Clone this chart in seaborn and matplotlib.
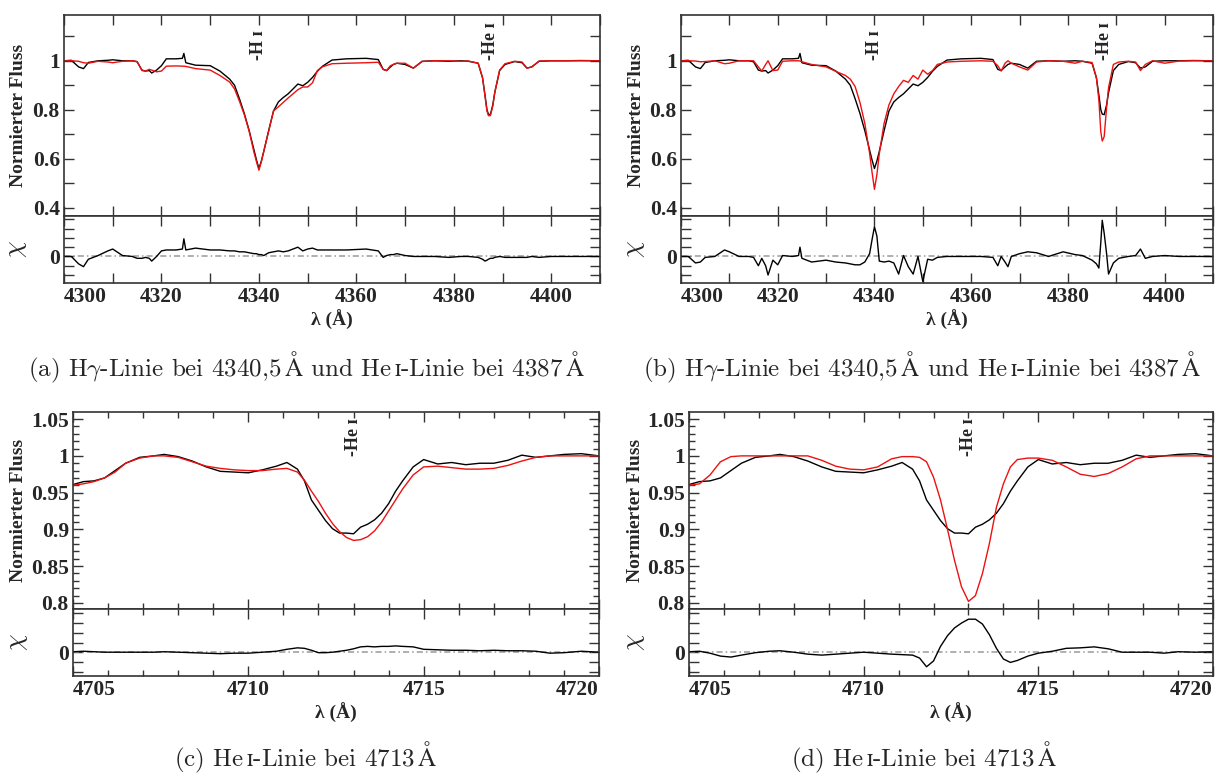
import numpy as np
import pandas as pd
import seaborn as sns
import matplotlib.pyplot as plt

# Hgamma + He I 4387 window, panels (a) and (b)
wave_hg = [4300, 4301.5, 4303, 4304, 4305, 4307, 4309, 4310, 4312, 4314,
           4315, 4316, 4316.7, 4317.5, 4318, 4319, 4320, 4321, 4323, 4324.3,
           4324.6, 4325, 4327, 4330, 4332, 4334, 4335, 4336, 4337, 4338,
           4339, 4339.5, 4340, 4340.5, 4341, 4342, 4343, 4344, 4345, 4346,
           4347, 4348, 4349, 4350, 4351, 4352, 4353, 4355, 4358, 4362,
           4364.5, 4365.5, 4366.2, 4367, 4367.6, 4368.3, 4370, 4371.7, 4373.5, 4376,
           4379, 4381.5, 4383, 4385, 4385.9, 4386.4, 4386.8, 4387.1, 4387.5, 4388,
           4388.4, 4389.4, 4390.5, 4392.5, 4394, 4395, 4396, 4397.5, 4400, 4403,
           4406, 4410]
flux_obs_hg = [1.000, 1.002, 0.975, 0.968, 0.993, 1.000, 1.002, 1.004, 1.000, 1.000,
               0.996, 0.962, 0.958, 0.960, 0.950, 0.962, 0.980, 1.008, 1.008, 1.010,
               1.030, 0.992, 0.982, 0.980, 0.958, 0.925, 0.900, 0.845, 0.785, 0.715,
               0.635, 0.595, 0.560, 0.590, 0.630, 0.715, 0.795, 0.832, 0.850, 0.865,
               0.885, 0.905, 0.898, 0.912, 0.932, 0.957, 0.977, 1.003, 1.008, 1.010,
               1.005, 0.965, 0.960, 0.975, 0.985, 0.990, 0.985, 0.970, 0.998, 1.000,
               0.998, 1.000, 0.998, 0.990, 0.930, 0.860, 0.800, 0.782, 0.780, 0.820,
               0.870, 0.960, 0.985, 0.997, 0.992, 0.970, 0.975, 0.998, 1.000, 1.000,
               1.001, 1.000]
flux_fit_a = [1.000, 1.000, 0.998, 0.992, 0.990, 0.998, 0.995, 0.992, 0.998, 1.000,
              0.997, 0.960, 0.958, 0.965, 0.962, 0.955, 0.958, 0.978, 0.979, 0.978,
              0.978, 0.977, 0.968, 0.962, 0.940, 0.913, 0.885, 0.835, 0.780, 0.712,
              0.625, 0.588, 0.553, 0.588, 0.630, 0.712, 0.795, 0.812, 0.830, 0.848,
              0.865, 0.882, 0.893, 0.893, 0.910, 0.960, 0.975, 0.988, 0.990, 0.992,
              0.994, 0.965, 0.960, 0.980, 0.985, 0.990, 0.990, 0.970, 0.997, 1.000,
              1.000, 0.998, 0.999, 0.990, 0.930, 0.855, 0.795, 0.776, 0.776, 0.815,
              0.870, 0.962, 0.988, 0.998, 0.995, 0.970, 0.975, 0.999, 1.000, 1.000,
              1.000, 1.000]
flux_fit_b = [1.000, 1.000, 0.999, 0.996, 0.997, 1.000, 0.988, 0.990, 1.000, 1.000,
              1.000, 0.975, 0.958, 0.985, 1.000, 0.960, 0.962, 0.998, 1.000, 1.000,
              0.999, 0.996, 0.985, 0.975, 0.957, 0.940, 0.925, 0.895, 0.830, 0.745,
              0.622, 0.545, 0.475, 0.535, 0.620, 0.745, 0.820, 0.865, 0.895, 0.920,
              0.912, 0.940, 0.925, 0.962, 0.945, 0.960, 0.985, 0.995, 0.998, 1.000,
              0.998, 0.980, 0.958, 0.990, 1.000, 0.990, 0.975, 0.962, 0.995, 1.000,
              0.998, 0.990, 0.998, 0.993, 0.930, 0.840, 0.710, 0.672, 0.690, 0.810,
              0.890, 0.985, 0.995, 0.998, 0.995, 0.960, 0.985, 1.000, 0.990, 0.999,
              1.000, 1.000]
chi_a = [0.0, 0.0, -0.8, -1.1, -0.3, 0.1, 0.6, 0.8, 0.1, 0.0,
         -0.2, -0.2, -0.1, -0.2, -0.5, 0.0, 0.6, 0.7, 0.7, 0.8,
         1.9, 0.7, 0.9, 0.7, 0.7, 0.6, 0.6, 0.5, 0.5, 0.4,
         0.3, 0.3, 0.2, 0.2, 0.1, 0.4, 0.5, 0.6, 0.5, 0.6,
         0.8, 1.0, 0.6, 0.8, 0.9, 0.7, 0.7, 0.7, 0.7, 0.8,
         0.6, -0.1, 0.1, 0.2, 0.2, 0.3, 0.1, 0.0, 0.0, 0.0,
         -0.1, 0.0, 0.0, -0.1, -0.3, -0.5, -0.4, -0.3, -0.2, -0.2,
         -0.1, 0.0, -0.1, -0.1, -0.1, -0.1, 0.0, -0.1, 0.0, 0.0,
         0.0, 0.0]
chi_b = [0.0, 0.0, -0.7, -0.6, -0.1, 0.0, 0.7, 0.5, 0.0, 0.0,
         -0.1, -1.0, -0.2, -1.0, -2.0, -0.4, -0.9, 0.1, 0.0, 0.1,
         1.0, -0.2, -0.6, -0.4, -0.6, -0.7, -0.8, -0.9, -0.9, -0.6,
         0.3, 1.8, 3.2, 2.2, -0.5, -0.6, -0.5, -0.7, -1.9, 0.1,
         -1.1, -1.9, 0.0, -2.7, -0.3, -0.4, -0.1, 0.0, 0.0, 0.0,
         -0.1, -1.0, 0.0, -0.6, -1.1, 0.0, 0.3, 0.5, 0.4, 0.0,
         0.5, 0.2, 0.1, -0.4, -0.8, -1.25, 1.5, 3.9, 2.5, 0.3,
         -1.9, -0.7, -0.2, 0.0, 0.1, 0.8, -0.2, 0.0, 0.1, 0.0,
         0.0, 0.0]

# He I 4713 window, panels (c) and (d)
wave_he = [4705.0, 4705.3, 4705.6, 4705.9, 4706.2, 4706.5, 4706.9, 4707.3, 4707.6, 4708.0,
           4708.4, 4708.8, 4709.2, 4709.6, 4710.0, 4710.4, 4710.8, 4711.1, 4711.4, 4711.6,
           4711.8, 4712.0, 4712.2, 4712.4, 4712.6, 4712.8, 4713.0, 4713.2, 4713.4, 4713.6,
           4713.8, 4714.0, 4714.2, 4714.4, 4714.7, 4715.0, 4715.4, 4715.8, 4716.2, 4716.6,
           4717.0, 4717.4, 4717.8, 4718.2, 4718.6, 4719.0, 4719.5, 4720.0]
flux_obs_he = [0.961, 0.965, 0.966, 0.970, 0.980, 0.990, 0.998, 1.000, 1.002, 0.999,
               0.993, 0.985, 0.979, 0.978, 0.977, 0.981, 0.986, 0.991, 0.982, 0.966,
               0.940, 0.926, 0.912, 0.901, 0.895, 0.895, 0.894, 0.903, 0.907, 0.913,
               0.922, 0.935, 0.952, 0.966, 0.985, 0.995, 0.989, 0.991, 0.988, 0.990,
               0.990, 0.994, 1.001, 0.998, 1.000, 1.002, 1.003, 1.000]
flux_fit_c = [0.960, 0.962, 0.965, 0.970, 0.978, 0.990, 0.997, 1.000, 1.000, 0.998,
              0.992, 0.986, 0.983, 0.981, 0.980, 0.980, 0.982, 0.983, 0.978, 0.967,
              0.952, 0.938, 0.922, 0.908, 0.897, 0.889, 0.885, 0.886, 0.890, 0.898,
              0.910, 0.925, 0.940, 0.955, 0.974, 0.985, 0.986, 0.984, 0.982, 0.982,
              0.983, 0.987, 0.993, 0.998, 1.000, 1.000, 1.000, 1.000]
flux_fit_d = [0.960, 0.962, 0.974, 0.992, 0.999, 1.000, 1.000, 1.000, 1.000, 1.000,
              1.000, 0.994, 0.986, 0.982, 0.981, 0.985, 0.996, 0.999, 0.999, 0.998,
              0.992, 0.971, 0.940, 0.900, 0.858, 0.822, 0.802, 0.810, 0.840, 0.881,
              0.930, 0.962, 0.985, 0.995, 0.997, 0.997, 0.994, 0.985, 0.975, 0.972,
              0.976, 0.985, 0.996, 1.000, 1.000, 1.000, 1.000, 1.000]
chi_c = [0.05, 0.1, 0.05, 0.0, 0.0, 0.0, 0.0, 0.0, 0.05, 0.0,
         -0.05, -0.1, -0.15, -0.1, -0.1, 0.0, 0.1, 0.3, 0.45, 0.4,
         0.2, -0.05, -0.05, 0.0, 0.1, 0.2, 0.35, 0.55, 0.6, 0.55,
         0.6, 0.6, 0.65, 0.6, 0.55, 0.3, 0.25, 0.2, 0.2, 0.15,
         0.2, 0.15, 0.15, 0.1, -0.1, -0.05, 0.1, 0.0]
chi_d = [0.05, 0.1, -0.1, -0.4, -0.5, -0.3, -0.05, 0.1, 0.15, 0.0,
         -0.2, -0.3, -0.2, -0.1, 0.0, -0.1, -0.2, -0.25, -0.3, -0.6,
         -1.5, -0.9, 0.6, 1.7, 2.5, 3.0, 3.4, 3.4, 2.9, 1.8,
         0.4, -0.7, -1.05, -0.85, -0.4, -0.1, 0.1, 0.4, 0.45, 0.55,
         0.35, 0.0, 0.0, 0.0, -0.1, 0.05, 0.0, 0.05]

hg_xticks = list(range(4300, 4411, 10))
hg_xlabels = [str(t) if t % 20 == 0 else '' for t in hg_xticks]
hg_yticks = [0.4, 0.5, 0.6, 0.7, 0.8, 0.9, 1.0, 1.1]
hg_ylabels = ['0.4', '', '0.6', '', '0.8', '', '1', '']
he_xticks = [4705, 4710, 4715, 4720]
he_xlabels = ['4705', '4710', '4715', '4720']
he_yticks = [0.8, 0.85, 0.9, 0.95, 1.0, 1.05]
he_ylabels = ['0.8', '0.85', '0.9', '0.95', '1', '1.05']
chi_ticks = [-2, -1, 0, 1, 2, 3, 4]
chi_labels = ['', '', '0', '', '', '', '']

lines_hg = [(4340.0, '-H ɪ'), (4387.5, '-He ɪ')]
lines_he = [(4713.0, '-He ɪ')]

captions = [r'(a) H$\gamma$-Linie bei 4340,5$\,\mathrm{\AA}$ und He$\,\mathrm{ɪ}$-Linie bei 4387$\,\mathrm{\AA}$',
            r'(b) H$\gamma$-Linie bei 4340,5$\,\mathrm{\AA}$ und He$\,\mathrm{ɪ}$-Linie bei 4387$\,\mathrm{\AA}$',
            r'(c) He$\,\mathrm{ɪ}$-Linie bei 4713$\,\mathrm{\AA}$',
            r'(d) He$\,\mathrm{ɪ}$-Linie bei 4713$\,\mathrm{\AA}$']

df_hg = pd.DataFrame({'wave': wave_hg, 'obs': flux_obs_hg, 'fit_a': flux_fit_a,
                      'fit_b': flux_fit_b, 'chi_a': chi_a, 'chi_b': chi_b})
df_he = pd.DataFrame({'wave': wave_he, 'obs': flux_obs_he, 'fit_c': flux_fit_c,
                      'fit_d': flux_fit_d, 'chi_c': chi_c, 'chi_d': chi_d})

sns.set_theme(style='ticks')
plt.rcParams['font.family'] = ['Liberation Serif', 'DejaVu Serif']
plt.rcParams['mathtext.fontset'] = 'cm'

W, H = 1215, 773
fig = plt.figure(figsize=(W / 100, H / 100), dpi=100)
FRAME = '#333333'
TICKFONT = dict(fontweight='bold', fontsize=15.5)
LABELFONT = dict(fontweight='bold', fontsize=14)


def add_px_axes(x0, x1, y0, y1):
    return fig.add_axes([x0 / W, 1 - y1 / H, (x1 - x0) / W, (y1 - y0) / H])


def style(ax):
    for s in ax.spines.values():
        s.set_color(FRAME)
        s.set_linewidth(1.2)
    ax.tick_params(which='both', direction='in', top=True, bottom=True, left=True, right=True,
                   color=FRAME, width=1.0, pad=3)
    ax.tick_params(which='major', length=7)
    ax.tick_params(which='minor', length=4)
    ax.grid(False)


def panel(box, df, fit, chi, xlim, ylim, xticks, xlabels, yticks, ylabels, lines, line_y,
          chi_lim, label_x, hg=True):
    x0, x1, yt, ym, yb = box
    ax = add_px_axes(x0, x1, yt, ym)
    axr = add_px_axes(x0, x1, ym, yb)

    sns.lineplot(data=df, x='wave', y='obs', ax=ax, color='black', lw=1.0, sort=False, estimator=None)
    sns.lineplot(data=df, x='wave', y=fit, ax=ax, color='#ee1111', lw=1.0, sort=False, estimator=None)
    axr.axhline(0, color='#9a9a9a', lw=1.1, ls=(0, (4, 2, 1, 2)))
    sns.lineplot(data=df, x='wave', y=chi, ax=axr, color='black', lw=1.0, sort=False, estimator=None)

    for a in (ax, axr):
        style(a)
        a.set_xticks(xticks)
    ax.set_ylim(ylim)
    axr.set_ylim(chi_lim)

    ax.set_yticks(yticks, ylabels, **TICKFONT)
    if not hg:
        ax.set_yticks(np.arange(0.80, 1.0501, 0.01), minor=True)
        for a in (ax, axr):
            a.set_xticks(np.arange(4705, 4720.5, 1), minor=True)
    ax.tick_params(labelbottom=False)
    axr.set_xticks(xticks, xlabels, **TICKFONT)
    axr.set_yticks(chi_ticks, chi_labels, **TICKFONT)
    for a in (ax, axr):
        a.set_xlim(xlim)

    labs = axr.get_xticklabels()
    labs[0].set_ha('left')
    if not hg:
        labs[-1].set_ha('right')

    ax.set_xlabel('')
    ax.set_ylabel('Normierter Fluss', va='center', **LABELFONT)
    ax.yaxis.set_label_coords(label_x, 0.5)
    axr.set_ylabel(r'$\chi$', fontsize=19, va='center')
    axr.yaxis.set_label_coords(label_x, 0.5)
    axr.set_xlabel('λ (Å)', va='center', **LABELFONT)
    axr.xaxis.set_label_coords(0.5, -(320 - 283) / 67)

    for lam, txt in lines:
        ax.text(lam, line_y, txt, rotation=90, ha='center', va='bottom', fontsize=13,
                fontweight='bold')
    return ax, axr


panel((64, 600, 15, 216, 283), df_hg, 'fit_a', 'chi_a', (4300, 4410), (0.366, 1.187),
      hg_xticks, hg_xlabels, hg_yticks, hg_ylabels, lines_hg, 1.005, (-2.86, 4.36), -0.085)
panel((681, 1213, 15, 216, 283), df_hg, 'fit_b', 'chi_b', (4300, 4410), (0.366, 1.187),
      hg_xticks, hg_xlabels, hg_yticks, hg_ylabels, lines_hg, 1.005, (-2.86, 4.36), -0.084)
panel((73, 599, 412, 609, 676), df_he, 'fit_c', 'chi_c', (4705, 4720), (0.7917, 1.0597),
      he_xticks, he_xlabels, he_yticks, he_ylabels, lines_he, 1.0, (-2.45, 4.45), -0.103, hg=False)
panel((689, 1213, 412, 609, 676), df_he, 'fit_d', 'chi_d', (4705, 4720), (0.7917, 1.0597),
      he_xticks, he_xlabels, he_yticks, he_ylabels, lines_he, 1.0, (-2.45, 4.45), -0.102, hg=False)

cap_pos = [(307, 367), (922, 367), (306, 757), (924, 757)]
for (cx, cy), cap in zip(cap_pos, captions):
    fig.text(cx / W, 1 - cy / H, cap, ha='center', va='center', fontsize=18,
             fontweight='normal', family='cmr10')

fig.savefig('out.png', dpi=100)
